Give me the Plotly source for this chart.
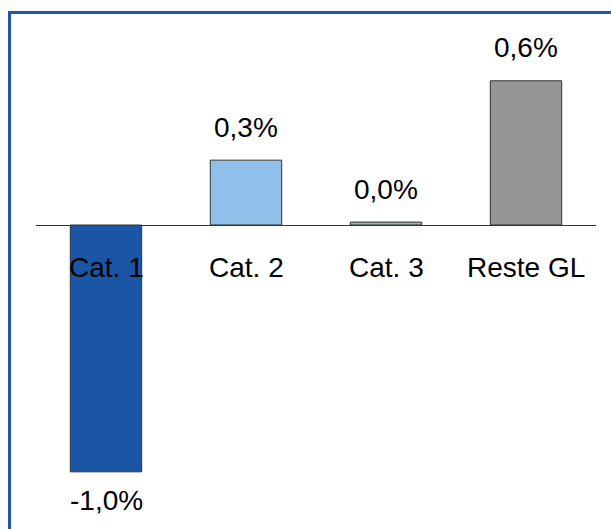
import plotly.graph_objects as go

categories = ["Cat. 1", "Cat. 2", "Cat. 3", "Reste GL"]
values = [-1.02, 0.268, 0.012, 0.596]
colors = ["#1b55a6", "#8ec0e9", "#9bb6b8", "#969696"]

W, H = 611, 529
px_per_unit = 242.0
zero_y = 225.0
y_top = zero_y / px_per_unit
y_bot = -(H - zero_y) / px_per_unit

fig = go.Figure()
fig.add_trace(go.Bar(
    x=categories, y=values, width=0.51,
    marker=dict(color=colors, line=dict(color="#333333", width=1)),
    hoverinfo="skip",
))

FONT = "Arial, Liberation Sans, sans-serif"
annotations = []
for c, v in zip(categories, values):
    label = f"{v:.1f}%".replace(".", ",")
    annotations.append(dict(
        x=c, y=v, text=label, showarrow=False, xref="x", yref="y",
        yanchor="middle", yshift=33 if v >= 0 else -29,
        font=dict(family=FONT, size=28, color="#000000"),
    ))
    annotations.append(dict(
        x=c, y=0, text=c, showarrow=False, xref="x", yref="y",
        yanchor="middle", yshift=-42,
        font=dict(family=FONT, size=28, color="#000000"),
    ))

fig.update_layout(
    width=W, height=H,
    margin=dict(l=0, r=0, t=0, b=0),
    paper_bgcolor="white", plot_bgcolor="white",
    showlegend=False,
    xaxis=dict(domain=[36 / W, 596 / W], range=[-0.5, 3.5],
               showticklabels=False, showgrid=False, zeroline=False,
               showline=False, ticks=""),
    yaxis=dict(range=[y_bot, y_top], showticklabels=False, showgrid=False,
               zeroline=True, zerolinecolor="#333333", zerolinewidth=1,
               showline=False, ticks=""),
    annotations=annotations,
    shapes=[dict(type="rect", xref="paper", yref="paper",
                 x0=9.5 / W, x1=1.2, y0=-0.2, y1=1 - 12.5 / H,
                 line=dict(color="#1f57b0", width=3), fillcolor="rgba(0,0,0,0)",
                 layer="above")],
)

fig.write_html("out.html")
